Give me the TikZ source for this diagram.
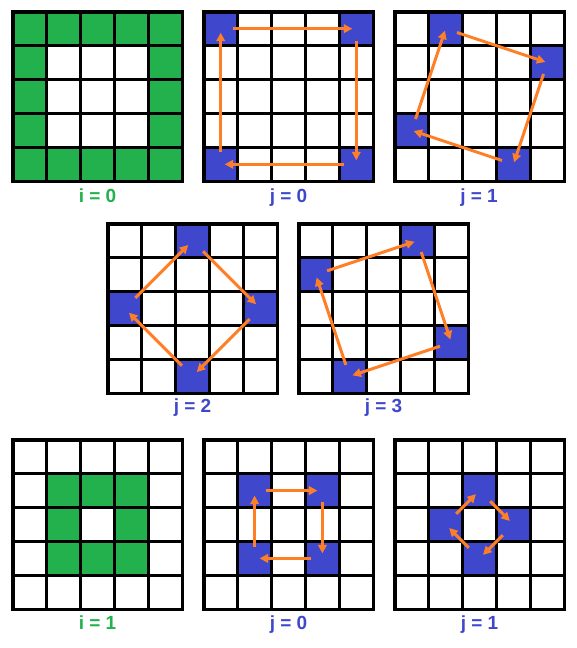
\documentclass[tikz,border=0pt]{standalone}
\usepackage{fontspec}
\setmainfont{Liberation Sans}
\usetikzlibrary{arrows.meta}
\definecolor{pgreen}{HTML}{22B14C}
\definecolor{pblue}{HTML}{3F48CC}
\definecolor{porange}{HTML}{FF7F27}
\newcommand\cs{33.9}
\tikzset{
  gridline/.style={line width=3.5pt, line cap=rect, black},
  arr/.style={draw=porange, fill=porange, line width=3pt, -{Triangle[length=8.5pt,width=8.5pt]}, shorten <=12pt, shorten >=4pt},
  darr/.style={arr, shorten <=15pt, shorten >=5pt},
  lab/.style={font=\fontsize{19}{22}\selectfont\bfseries, text height=13.6pt, text depth=0pt, inner sep=0pt},
  ilab/.style={lab, text=pgreen},
  jlab/.style={lab, text=pblue}
}
\newcommand\cellf[3]{\fill[#1] ({#3*\cs},{#2*\cs}) rectangle ++(\cs,\cs);}
\newcommand\gridlines{%
  \foreach \k in {0,...,5} {
    \draw[gridline] ({\k*\cs},0) -- ({\k*\cs},{5*\cs});
    \draw[gridline] (0,{\k*\cs}) -- ({5*\cs},{\k*\cs});
  }}
\newcommand\cellnames[1]{%
  \foreach \r in {0,...,4} { \foreach \c in {0,...,4} {
    \coordinate (#1-\r-\c) at ({(\c+0.5)*\cs},{(\r+0.5)*\cs});
  }}}
\begin{document}
\begin{tikzpicture}[x=1pt,y=-1pt]
\useasboundingbox[fill=white] (0,0) rectangle (577,648);

% G1: i = 0
\begin{scope}[shift={(12.75,11.75)}]
  \foreach \c in {0,...,4} {\cellf{pgreen}{0}{\c} \cellf{pgreen}{4}{\c}}
  \foreach \r in {1,2,3} {\cellf{pgreen}{\r}{0} \cellf{pgreen}{\r}{4}}
  \gridlines
\end{scope}
\node[ilab] (l1) at (97.5,195.5) {i = 0};

% G2: j = 0
\begin{scope}[shift={(203.75,11.75)}]
  \cellf{pblue}{0}{0} \cellf{pblue}{0}{4} \cellf{pblue}{4}{4} \cellf{pblue}{4}{0}
  \gridlines
  \cellnames{b}
\end{scope}
\draw[arr] (b-0-0) -- (b-0-4);
\draw[arr] (b-0-4) -- (b-4-4);
\draw[arr] (b-4-4) -- (b-4-0);
\draw[arr] (b-4-0) -- (b-0-0);
\node[jlab] (l2) at (288.5,195.5) {j = 0};

% G3: j = 1
\begin{scope}[shift={(394.75,11.75)}]
  \cellf{pblue}{0}{1} \cellf{pblue}{1}{4} \cellf{pblue}{4}{3} \cellf{pblue}{3}{0}
  \gridlines
  \cellnames{c}
\end{scope}
\draw[arr,shorten >=2pt] (c-0-1) -- (c-1-4);
\draw[arr,shorten >=2pt] (c-1-4) -- (c-4-3);
\draw[arr,shorten >=2pt] (c-4-3) -- (c-3-0);
\draw[arr,shorten >=2pt] (c-3-0) -- (c-0-1);
\node[jlab] (l3) at (479,195.5) {j = 1};

% G4: j = 2
\begin{scope}[shift={(107.75,223.75)}]
  \cellf{pblue}{0}{2} \cellf{pblue}{2}{4} \cellf{pblue}{4}{2} \cellf{pblue}{2}{0}
  \gridlines
  \cellnames{d}
\end{scope}
\draw[darr,shorten >=6pt] (d-2-0) -- (d-0-2);
\draw[darr,shorten >=6pt] (d-0-2) -- (d-2-4);
\draw[darr,shorten >=6pt] (d-2-4) -- (d-4-2);
\draw[darr,shorten >=6pt] (d-4-2) -- (d-2-0);
\node[jlab] (l4) at (192.5,405.5) {j = 2};

% G5: j = 3
\begin{scope}[shift={(298.75,223.75)}]
  \cellf{pblue}{0}{3} \cellf{pblue}{3}{4} \cellf{pblue}{4}{1} \cellf{pblue}{1}{0}
  \gridlines
  \cellnames{e}
\end{scope}
\draw[arr,shorten >=3pt] (e-1-0) -- (e-0-3);
\draw[arr,shorten >=3pt] (e-0-3) -- (e-3-4);
\draw[arr,shorten >=3pt] (e-3-4) -- (e-4-1);
\draw[arr,shorten >=3pt] (e-4-1) -- (e-1-0);
\node[jlab] (l5) at (383.5,405.5) {j = 3};

% G7: i = 1
\begin{scope}[shift={(12.75,439.75)}]
  \foreach \c in {1,2,3} {\cellf{pgreen}{1}{\c} \cellf{pgreen}{3}{\c}}
  \cellf{pgreen}{2}{1} \cellf{pgreen}{2}{3}
  \gridlines
\end{scope}
\node[ilab] (l7) at (97.5,622.5) {i = 1};

% G8: j = 0
\begin{scope}[shift={(203.75,439.75)}]
  \cellf{pblue}{1}{1} \cellf{pblue}{1}{3} \cellf{pblue}{3}{3} \cellf{pblue}{3}{1}
  \gridlines
  \cellnames{g}
\end{scope}
\draw[arr,shorten <=11pt,shorten >=5pt] (g-1-1) -- (g-1-3);
\draw[arr,shorten <=11pt,shorten >=5pt] (g-1-3) -- (g-3-3);
\draw[arr,shorten <=11pt,shorten >=5pt] (g-3-3) -- (g-3-1);
\draw[arr,shorten <=11pt,shorten >=5pt] (g-3-1) -- (g-1-1);
\node[jlab] (l8) at (288.5,622.5) {j = 0};

% G9: j = 1
\begin{scope}[shift={(394.75,439.75)}]
  \cellf{pblue}{1}{2} \cellf{pblue}{2}{3} \cellf{pblue}{3}{2} \cellf{pblue}{2}{1}
  \gridlines
  \cellnames{h}
\end{scope}
\draw[darr] (h-2-1) -- (h-1-2);
\draw[darr] (h-1-2) -- (h-2-3);
\draw[darr] (h-2-3) -- (h-3-2);
\draw[darr] (h-3-2) -- (h-2-1);
\node[jlab] (l9) at (479.5,622.5) {j = 1};
\end{tikzpicture}
\end{document}
